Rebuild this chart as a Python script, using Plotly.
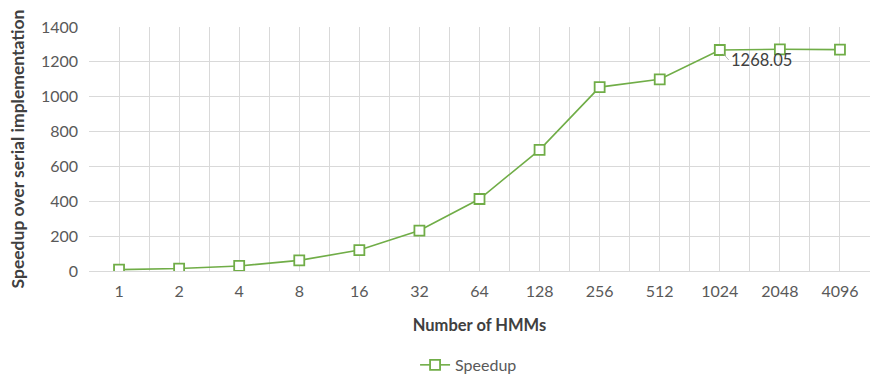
import plotly.graph_objects as go

# Number of HMMs processed and measured speedup over the serial version
hmm_labels = ["1", "2", "4", "8", "16", "32", "64", "128", "256", "512", "1024", "2048", "4096"]
speedup = [8, 14, 29, 61, 120, 232, 413, 695, 1055, 1100, 1268.05, 1272, 1270]

green = "#70AD47"
grid = "#D9D9D9"
text_col = "#595959"
title_col = "#404040"
font_family = "Lato, Open Sans, sans-serif"

idx = list(range(len(hmm_labels)))

fig = go.Figure()
fig.add_trace(go.Scatter(
    x=idx,
    y=speedup,
    mode="lines+markers",
    name="Speedup",
    line=dict(color=green, width=1.6),
    marker=dict(symbol="square", size=10, color="white",
                line=dict(color=green, width=1.8)),
))

# callout for the 1024-HMM value
label_i = hmm_labels.index("1024")
fig.add_annotation(
    x=label_i, y=speedup[label_i],
    text=f"{speedup[label_i]:.2f}",
    showarrow=True, arrowhead=0, arrowwidth=0.8, arrowcolor="#A6A6A6",
    ax=9, ay=10, xanchor="left", yanchor="middle",
    font=dict(family=font_family, size=16.5, color=title_col),
    standoff=5,
)

fig.update_layout(
    width=870, height=377,
    margin=dict(l=89, r=0, t=27, b=106, autoexpand=False),
    paper_bgcolor="white", plot_bgcolor="white",
    font=dict(family=font_family, size=16, color=text_col),
    showlegend=True,
    legend=dict(orientation="h", x=0.486, xanchor="center", y=-0.385, yanchor="middle",
                font=dict(family=font_family, size=16, color=text_col),
                itemwidth=30),
)

fig.update_xaxes(
    range=[-0.5, len(hmm_labels) - 0.5],
    tickvals=idx, ticktext=hmm_labels,
    showgrid=True, gridcolor=grid, gridwidth=1,
    minor=dict(tick0=0.5, dtick=1, showgrid=True, gridcolor=grid, gridwidth=1),
    showline=True, linecolor=grid, linewidth=1,
    zeroline=False, ticks="",
    ticklabelstandoff=6,
    tickfont=dict(family=font_family, size=16, color=text_col),
    title=dict(text="<b>Number of HMMs</b>", standoff=20,
               font=dict(family=font_family, size=16.5, color=title_col)),
)

fig.update_yaxes(
    range=[0, 1400], dtick=200,
    showgrid=True, gridcolor=grid, gridwidth=1,
    zeroline=False, showline=False, ticks="",
    ticklabelstandoff=10,
    tickfont=dict(family=font_family, size=16, color=text_col),
    title=dict(text="<b>Speedup over serial implementation</b>", standoff=11,
               font=dict(family=font_family, size=17.5, color=title_col)),
)

fig.write_html("out.html")
